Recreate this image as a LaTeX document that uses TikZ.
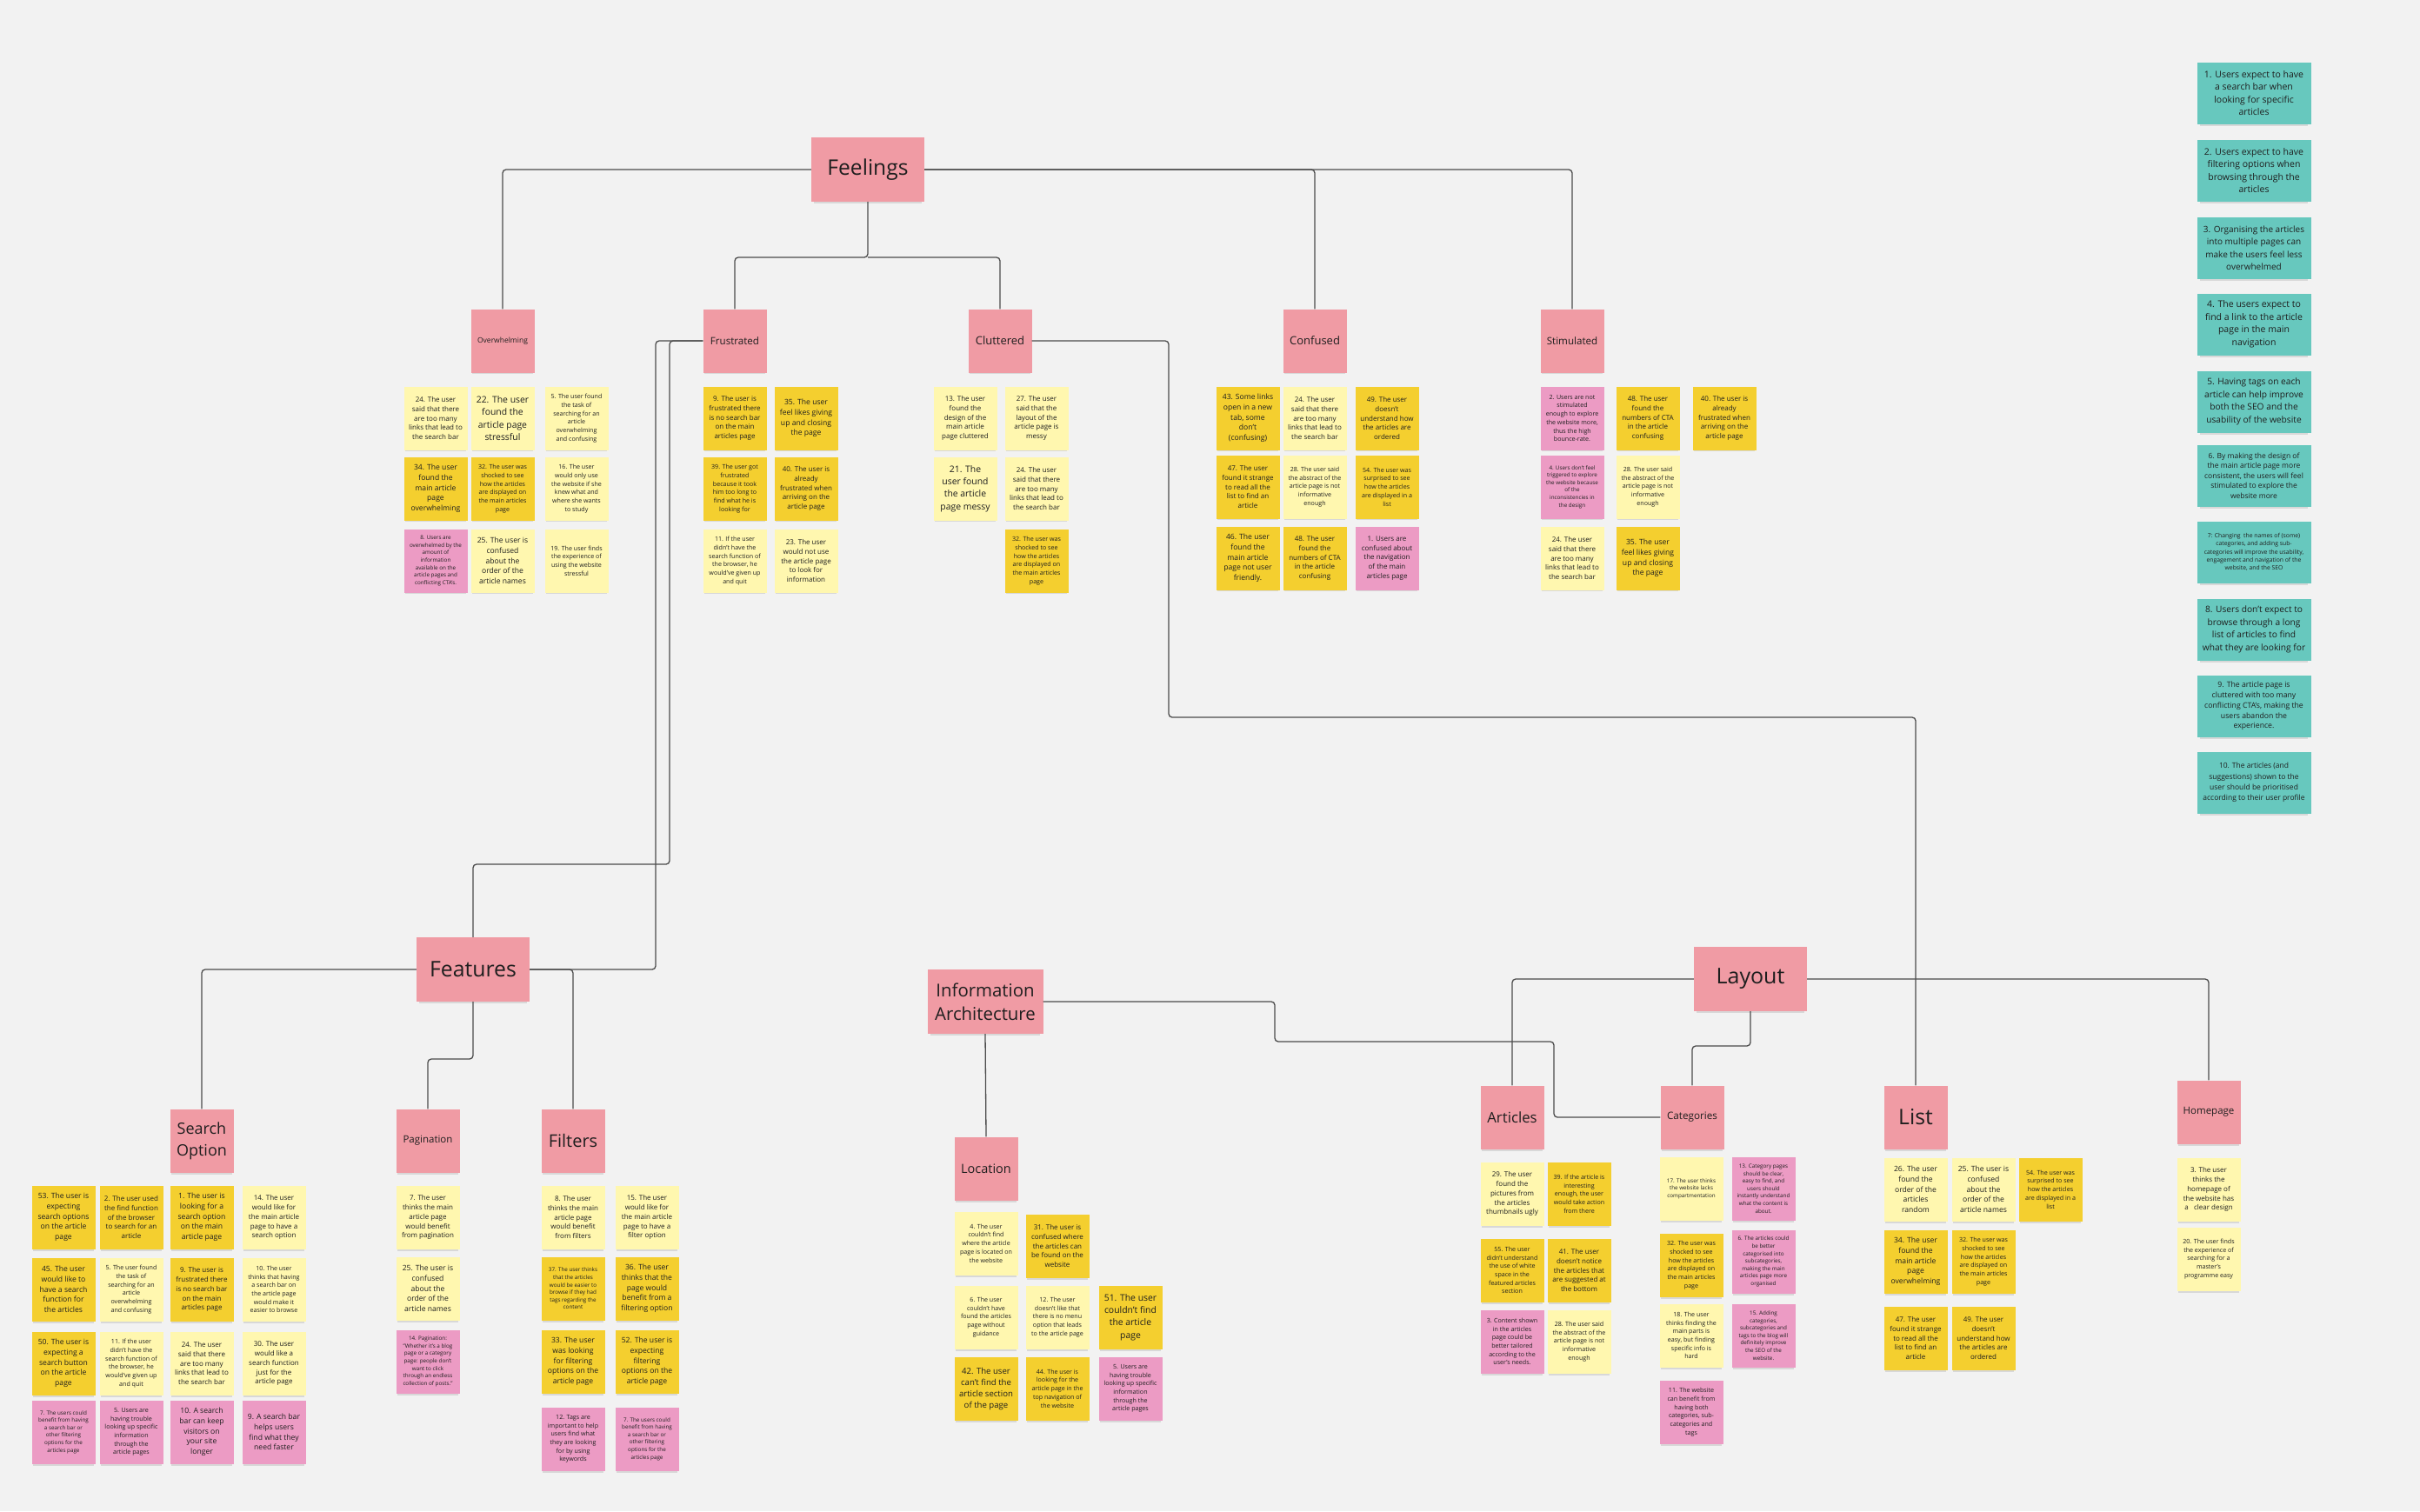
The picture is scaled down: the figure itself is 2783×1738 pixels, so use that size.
\documentclass[tikz,border=0pt]{standalone}
\usepackage{fontspec}
\setmainfont{Open Sans}
\usepackage{tikz}
\usetikzlibrary{shadows}
\definecolor{bgcol}{HTML}{F2F2F2}
\definecolor{lyellow}{HTML}{FFF7AF}
\definecolor{dyellow}{HTML}{F4CF2F}
\definecolor{pinknote}{HTML}{EC9BC4}
\definecolor{headred}{HTML}{F09BA4}
\definecolor{tealnote}{HTML}{67C8BE}
\definecolor{inkcol}{HTML}{1E1E1E}
\tikzset{
    note/.style={minimum width=73pt,minimum height=73pt,inner sep=0pt,align=center,text=inkcol,
        drop shadow={shadow xshift=0pt,shadow yshift=-4pt,shadow scale=0.95,opacity=0.22}},
    ly/.style={note,fill=lyellow},
    dy/.style={note,fill=dyellow},
    pk/.style={note,fill=pinknote},
    hd/.style={note,fill=headred},
    big/.style={hd,minimum width=130pt,minimum height=74pt},
    tl/.style={note,fill=tealnote,minimum width=131pt,minimum height=71pt},
    fa/.style={font=\fontsize{6.3}{8.6}\selectfont},
    fb/.style={font=\fontsize{7.1}{9.7}\selectfont},
    fc/.style={font=\fontsize{8}{10.9}\selectfont},
    fd/.style={font=\fontsize{8.6}{11.7}\selectfont},
    fe/.style={font=\fontsize{10.4}{14.2}\selectfont},
    link/.style={draw=black!70,line width=1.3pt,rounded corners=4pt}
}

\begin{document}
\begin{tikzpicture}[x=1pt,y=-1pt]
\fill[bgcol] (0,0) rectangle (2783,1738);
\useasboundingbox (0,0) rectangle (2783,1738);

% Feelings
\node[big,font=\fontsize{24.6}{30}\selectfont] (feel) at (998,195) {Feelings};
\node[hd,font=\fontsize{8.5}{11}\selectfont] (ovh) at (578,392) {Overwhelming};
\node[hd,font=\fontsize{11.6}{15}\selectfont] (fru) at (845,392) {Frustrated};
\node[hd,font=\fontsize{13}{16}\selectfont] (clu) at (1150,392) {Cluttered};
\node[hd,font=\fontsize{13}{16}\selectfont] (cof) at (1512,392) {Confused};
\node[hd,font=\fontsize{11.6}{15}\selectfont] (sti) at (1808,392) {Stimulated};

\node[ly,fc] (ov1) at (501,481) {24. The user\\said that there\\are too many\\links that lead to\\the search bar};
\node[ly,fe] (ov2) at (578,481) {22. The user\\found the\\article page\\stressful};
\node[ly,fb] (ov3) at (663,481) {5. The user found\\the task of\\searching for an\\article\\overwhelming\\and confusing};
\node[dy,fd] (ov4) at (501,562) {34. The user\\found the\\main article\\page\\overwhelming};
\node[dy,fb] (ov5) at (578,562) {32. The user was\\shocked to see\\how the articles\\are displayed on\\the main articles\\page};
\node[ly,fb] (ov6) at (663,562) {16. The user\\would only use\\the website if she\\knew what and\\where she wants\\to study};
\node[pk,fa] (ov7) at (501,645) {8. Users are\\overwhelmed by the\\amount of\\information\\available on the\\article pages and\\conflicting CTA's.};
\node[ly,fd] (ov8) at (578,645) {25. The user is\\confused\\about the\\order of the\\article names};
\node[ly,fb] (ov9) at (663,645) {19. The user finds\\the experience of\\using the website\\stressful};

\node[dy,fc] (fr1) at (845,481) {9. The user is\\frustrated there\\is no search bar\\on the main\\articles page};
\node[dy,fd] (fr2) at (927,481) {35. The user\\feel likes giving\\up and closing\\the page};
\node[dy,fb] (fr3) at (845,562) {39. The user got\\frustrated\\because it took\\him too long to\\find what he is\\looking for};
\node[dy,fc] (fr4) at (927,562) {40. The user is\\already\\frustrated when\\arriving on the\\article page};
\node[ly,fb] (fr5) at (845,645) {11. If the user\\didn't have the\\search function of\\the browser, he\\would've given up\\and quit};
\node[ly,fc] (fr6) at (927,645) {23. The user\\would not use\\the article page\\to look for\\information};

\node[ly,fc] (cl1) at (1110,481) {13. The user\\found the\\design of the\\main article\\page cluttered};
\node[ly,fc] (cl2) at (1192,481) {27. The user\\said that the\\layout of the\\article page is\\messy};
\node[ly,fe] (cl3) at (1110,562) {21. The\\user found\\the article\\page messy};
\node[ly,fc] (cl4) at (1192,562) {24. The user\\said that there\\are too many\\links that lead to\\the search bar};
\node[dy,fb] (cl5) at (1192,645) {32. The user was\\shocked to see\\how the articles\\are displayed on\\the main articles\\page};

\node[dy,fd] (co1) at (1435,481) {43. Some links\\open in a new\\tab, some\\don't\\(confusing)};
\node[ly,fc] (co2) at (1512,481) {24. The user\\said that there\\are too many\\links that lead to\\the search bar};
\node[dy,fc] (co3) at (1595,481) {49. The user\\doesn't\\understand how\\the articles are\\ordered};
\node[dy,fc] (co4) at (1435,560) {47. The user\\found it strange\\to read all the\\list to find an\\article};
\node[ly,fb] (co5) at (1512,560) {28. The user said\\the abstract of the\\article page is not\\informative\\enough};
\node[dy,fb] (co6) at (1595,560) {54. The user was\\surprised to see\\how the articles\\are displayed in a\\list};
\node[dy,fd] (co7) at (1435,642) {46. The user\\found the\\main article\\page not user\\friendly.};
\node[dy,fc] (co8) at (1512,642) {48. The user\\found the\\numbers of CTA\\in the article\\confusing};
\node[pk,fc] (co9) at (1595,642) {1. Users are\\confused about\\the navigation\\of the main\\articles page};

\node[pk,fb] (st1) at (1808,481) {2. Users are not\\stimulated\\enough to explore\\the website more,\\thus the high\\bounce-rate.};
\node[dy,fc] (st2) at (1895,481) {48. The user\\found the\\numbers of CTA\\in the article\\confusing};
\node[dy,fc] (st3) at (1983,481) {40. The user is\\already\\frustrated when\\arriving on the\\article page};
\node[pk,fa] (st4) at (1808,560) {4. Users don't feel\\triggered to explore\\the website because\\of the\\inconsistencies in\\the design};
\node[ly,fb] (st5) at (1895,560) {28. The user said\\the abstract of the\\article page is not\\informative\\enough};
\node[ly,fc] (st6) at (1808,642) {24. The user\\said that there\\are too many\\links that lead to\\the search bar};
\node[dy,fd] (st7) at (1895,642) {35. The user\\feel likes giving\\up and closing\\the page};

% insights
\node[tl,font=\fontsize{10.5}{14.5}\selectfont] (in1) at (2592,107) {1. Users expect to have\\a search bar when\\looking for specific\\articles};
\node[tl,font=\fontsize{10.5}{14.5}\selectfont] (in2) at (2592,196) {2. Users expect to have\\filtering options when\\browsing through the\\articles};
\node[tl,font=\fontsize{10}{14.5}\selectfont] (in3) at (2592,285) {3. Organising the articles\\into multiple pages can\\make the users feel less\\overwhelmed};
\node[tl,font=\fontsize{10.5}{14.5}\selectfont] (in4) at (2592,373) {4. The users expect to\\find a link to the article\\page in the main\\navigation};
\node[tl,font=\fontsize{10.2}{14.5}\selectfont] (in5) at (2592,462) {5. Having tags on each\\article can help improve\\both the SEO and the\\usability of the website};
\node[tl,font=\fontsize{8.5}{11.6}\selectfont] (in6) at (2592,547) {6. By making the design of\\the main article page more\\consistent, the users will feel\\stimulated to explore the\\website more};
\node[tl,font=\fontsize{6.8}{9.3}\selectfont] (in7) at (2592,635) {7: Changing\ \ the names of (some)\\categories, and adding sub-\\categories will improve the usability,\\engagement and navigation of the\\website, and the SEO};
\node[tl,font=\fontsize{10.2}{14.5}\selectfont] (in8) at (2592,724) {8. Users don't expect to\\browse through a long\\list of articles to find\\what they are looking for};
\node[tl,font=\fontsize{8.7}{11.8}\selectfont] (in9) at (2592,812) {9. The article page is\\cluttered with too many\\conflicting CTA's, making the\\users abandon the\\experience.};
\node[tl,font=\fontsize{8.5}{12.3}\selectfont] (in10) at (2592,900) {10. The articles (and\\suggestions) shown to the\\user should be prioritised\\according to their user profile};

% Features
\node[big,font=\fontsize{24.8}{30}\selectfont] (fea) at (544,1115) {Features};
\node[hd,font=\fontsize{18}{25}\selectfont] (so) at (232,1312) {Search\\Option};
\node[hd,font=\fontsize{11.5}{15}\selectfont] (pag) at (492,1312) {Pagination};
\node[hd,font=\fontsize{20}{24}\selectfont] (fil) at (659,1312) {Filters};

\node[dy,fd] (so1) at (73,1400) {53. The user is\\expecting\\search options\\on the article\\page};
\node[dy,fc] (so2) at (151,1400) {2. The user used\\the find function\\of the browser\\to search for an\\article};
\node[dy,fd] (so3) at (232,1400) {1. The user is\\looking for a\\search option\\on the main\\article page};
\node[ly,fc] (so4) at (315,1400) {14. The user\\would like for\\the main article\\page to have a\\search option};
\node[dy,fd] (so5) at (73,1483) {45. The user\\would like to\\have a search\\function for\\the articles};
\node[ly,fb] (so6) at (151,1483) {5. The user found\\the task of\\searching for an\\article\\overwhelming\\and confusing};
\node[dy,fc] (so7) at (232,1483) {9. The user is\\frustrated there\\is no search bar\\on the main\\articles page};
\node[ly,fb] (so8) at (315,1483) {10. The user\\thinks that having\\a search bar on\\the article page\\would make it\\easier to browse};
\node[dy,fd] (so9) at (73,1568) {50. The user is\\expecting a\\search button\\on the article\\page};
\node[ly,fb] (so10) at (151,1568) {11. If the user\\didn't have the\\search function of\\the browser, he\\would've given up\\and quit};
\node[ly,fc] (so11) at (232,1568) {24. The user\\said that there\\are too many\\links that lead to\\the search bar};
\node[ly,fc] (so12) at (315,1568) {30. The user\\would like a\\search function\\just for the\\article page};
\node[pk,fa] (so13) at (73,1647) {7. The users could\\benefit from having\\a search bar or\\other filtering\\options for the\\articles page};
\node[pk,fb] (so14) at (151,1647) {5. Users are\\having trouble\\looking up specific\\information\\through the\\article pages};
\node[pk,fd] (so15) at (232,1647) {10. A search\\bar can keep\\visitors on\\your site\\longer};
\node[pk,fd] (so16) at (315,1647) {9. A search bar\\helps users\\find what they\\need faster};

\node[ly,fc] (pa1) at (492,1400) {7. The user\\thinks the main\\article page\\would benefit\\from pagination};
\node[ly,fd] (pa2) at (492,1482) {25. The user is\\confused\\about the\\order of the\\article names};
\node[pk,fa] (pa3) at (492,1566) {14. Pagination:\\"Whether it's a blog\\page or a category\\page: people don't\\want to click\\through an endless\\collection of posts."};

\node[ly,fc] (fi1) at (659,1400) {8. The user\\thinks the main\\article page\\would benefit\\from filters};
\node[ly,fc] (fi2) at (744,1400) {15. The user\\would like for\\the main article\\page to have a\\filter option};
\node[dy,fa] (fi3) at (659,1482) {37. The user thinks\\that the articles\\would be easier to\\browse if they had\\tags regarding the\\content};
\node[dy,fd] (fi4) at (744,1482) {36. The user\\thinks that the\\page would\\benefit from a\\filtering option};
\node[dy,fd] (fi5) at (659,1566) {33. The user\\was looking\\for filtering\\options on the\\article page};
\node[dy,fd] (fi6) at (744,1566) {52. The user is\\expecting\\filtering\\options on the\\article page};
\node[pk,fb] (fi7) at (659,1655) {12. Tags are\\important to help\\users find what\\they are looking\\for by using\\keywords};
\node[pk,fa] (fi8) at (744,1655) {7. The users could\\benefit from having\\a search bar or\\other filtering\\options for the\\articles page};

% Information Architecture
\node[big,minimum width=133pt,font=\fontsize{20.4}{27}\selectfont] (ia) at (1133,1152) {Information\\Architecture};
\node[hd,font=\fontsize{14.5}{18}\selectfont] (loc) at (1134,1344) {Location};

\node[ly,fb] (lo1) at (1134,1430) {4. The user\\couldn't find\\where the article\\page is located on\\the website};
\node[dy,fc] (lo2) at (1216,1433) {31. The user is\\confused where\\the articles can\\be found on the\\website};
\node[ly,fb] (lo3) at (1134,1515) {6. The user\\couldn't have\\found the articles\\page without\\guidance};
\node[ly,fb] (lo4) at (1216,1515) {12. The user\\doesn't like that\\there is no menu\\option that leads\\to the article page};
\node[dy,fe] (lo5) at (1300,1515) {51. The user\\couldn't find\\the article\\page};
\node[dy,font=\fontsize{9.6}{13}\selectfont] (lo6) at (1134,1597) {42. The user\\can't find the\\article section\\of the page};
\node[dy,fb] (lo7) at (1216,1597) {44. The user is\\looking for the\\article page in the\\top navigation of\\the website};
\node[pk,fb] (lo8) at (1300,1597) {5. Users are\\having trouble\\looking up specific\\information\\through the\\article pages};

% Layout
\node[big,font=\fontsize{25}{30}\selectfont] (lay) at (2013,1126) {Layout};
\node[hd,font=\fontsize{16.8}{20}\selectfont] (art) at (1739,1285) {Articles};
\node[hd,font=\fontsize{11.7}{15}\selectfont] (cat) at (1946,1285) {Categories};
\node[hd,font=\fontsize{24.7}{28}\selectfont] (lst) at (2203,1285) {List};
\node[hd,font=\fontsize{11.5}{15}\selectfont] (hom) at (2540,1279) {Homepage};

\node[ly,fc] (ar1) at (1739,1373) {29. The user\\found the\\pictures from\\the articles\\thumbnails ugly};
\node[dy,fb] (ar2) at (1816,1373) {39. If the article is\\interesting\\enough, the user\\would take action\\from there};
\node[dy,fb] (ar3) at (1739,1461) {55. The user\\didn't understand\\the use of white\\space in the\\featured articles\\section};
\node[dy,fc] (ar4) at (1816,1461) {41. The user\\doesn't notice\\the articles that\\are suggested at\\the bottom};
\node[pk,fb] (ar5) at (1739,1543) {3. Content shown\\in the articles\\page could be\\better tailored\\according to the\\user's needs.};
\node[ly,fb] (ar6) at (1816,1543) {28. The user said\\the abstract of the\\article page is not\\informative\\enough};

\node[ly,fa] (ca1) at (1945,1367) {17. The user thinks\\the website lacks\\compartmentation};
\node[dy,fb] (ca2) at (1945,1455) {32. The user was\\shocked to see\\how the articles\\are displayed on\\the main articles\\page};
\node[ly,fb] (ca3) at (1945,1536) {18. The user\\thinks finding the\\main parts is\\easy, but finding\\specific info is\\hard};
\node[pk,fb] (ca4) at (1945,1624) {11. The website\\can benefit from\\having both\\categories, sub-\\categories and\\tags};
\node[pk,fa] (ca5) at (2028,1367) {13. Category pages\\should be clear,\\easy to find, and\\users should\\instantly understand\\what the content is\\about.};
\node[pk,fa] (ca6) at (2028,1451) {6. The articles could\\be better\\categorised into\\subcategories,\\making the main\\articles page more\\organised};
\node[pk,fa] (ca7) at (2028,1536) {15. Adding\\categories,\\subcategories and\\tags to the blog will\\definitely improve\\the SEO of the\\website.};

\node[ly,fd] (li1) at (2203,1368) {26. The user\\found the\\order of the\\articles\\random};
\node[ly,fd] (li2) at (2281,1368) {25. The user is\\confused\\about the\\order of the\\article names};
\node[dy,fb] (li3) at (2358,1368) {54. The user was\\surprised to see\\how the articles\\are displayed in a\\list};
\node[dy,fd] (li4) at (2203,1451) {34. The user\\found the\\main article\\page\\overwhelming};
\node[dy,fb] (li5) at (2281,1451) {32. The user was\\shocked to see\\how the articles\\are displayed on\\the main articles\\page};
\node[dy,fc] (li6) at (2203,1539) {47. The user\\found it strange\\to read all the\\list to find an\\article};
\node[dy,fc] (li7) at (2281,1539) {49. The user\\doesn't\\understand how\\the articles are\\ordered};

\node[ly,fc] (ho1) at (2540,1368) {3. The user\\thinks the\\homepage of\\the website has\\a\ \ \ clear design};
\node[ly,fb] (ho2) at (2540,1448) {20. The user finds\\the experience of\\searching for a\\master's\\programme easy};

% connectors
\coordinate (fj) at (998,296);
\coordinate (k1) at (754,1115);
\coordinate (k2) at (544,1218);
\coordinate (k3) at (1344,825);
\coordinate (k4) at (1466,1198);
\coordinate (k5) at (1787,1198);
\coordinate (k6) at (2013,1203);
\coordinate (k7) at (544,994);
\coordinate (k8) at (770,994);
\draw[link] (feel.west) -| (ovh.north);
\draw[link] (feel.east) -| (cof.north);
\draw[link] (feel.east) -| (sti.north);
\draw[link] (feel.south) -- (fj) -| (fru.north);
\draw[link] (fj) -| (clu.north);
\draw[link] (fea.east) -- (k1) |- (fru.west);
\draw[link] (fea.north) -- (k7) -- (k8) |- (fru.west);
\draw[link] (fil.north) |- (fea.east);
\draw[link] (fea.west) -| (so.north);
\draw[link] (fea.south) -- (k2) -| (pag.north);
\draw[link] (clu.east) -| (k3) -| (lst.north);
\draw[link] (ia.south) -- (loc.north);
\draw[link] (ia.east) -| (k4) -- (k5) |- (cat.west);
\draw[link] (lay.west) -| (art.north);
\draw[link] (lay.south) -- (k6) -| (cat.north);
\draw[link] (lay.east) -| (hom.north);
\end{tikzpicture}
\end{document}
